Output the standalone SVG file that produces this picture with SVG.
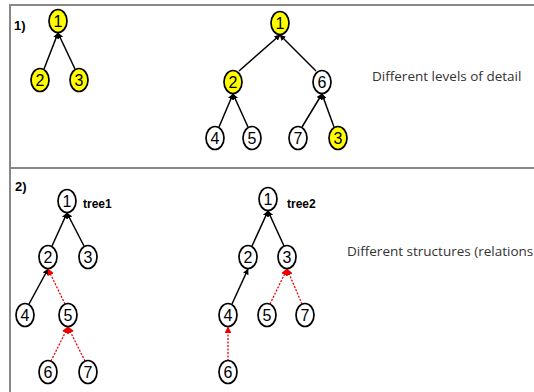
<svg xmlns="http://www.w3.org/2000/svg" width="534" height="392" viewBox="0 0 534 392">
<defs>
<marker id="ab" viewBox="0 0 10 10" refX="9" refY="5" markerWidth="6" markerHeight="6" orient="auto" markerUnits="userSpaceOnUse"><path d="M0,0 L10,5 L0,10 z" fill="#000"/></marker>
<marker id="ar" viewBox="0 0 10 10" refX="9" refY="5" markerWidth="7" markerHeight="7" orient="auto" markerUnits="userSpaceOnUse"><path d="M0,0 L10,5 L0,10 z" fill="#e00"/></marker>
</defs>
<style>
.n ellipse{fill:#fff;stroke:#000;stroke-width:1.7}
.y ellipse{fill:#ffff00}
.n text{font-family:"Liberation Sans",Arial,sans-serif;font-size:16px;fill:#000;text-anchor:middle}
.e{stroke:#000;stroke-width:1.5;fill:none;marker-end:url(#ab)}
.r{stroke:#e00;stroke-width:1.3;stroke-dasharray:2,1.5;fill:none;marker-end:url(#ar)}
.lb{font-family:"Liberation Sans",Arial,sans-serif;font-size:12px;font-weight:bold;fill:#000}
.tx{font-family:"Open Sans","Liberation Sans",sans-serif;font-size:13.5px;fill:#333}
</style>
<rect x="0" y="0" width="534" height="392" fill="#fff"/>
<g id="frame" stroke="#888" stroke-width="2" fill="none">
<path d="M10,392 V5 H534"/>
<path d="M10,168 H534"/>
</g>
<text class="lb" x="14" y="30" style="font-size:13px">1)</text>
<text class="lb" x="15" y="191" style="font-size:13px">2)</text>
<text class="tx" x="372" y="81">Different levels of detail</text>
<text class="tx" x="347" y="256">Different structures (relations</text>
<text class="lb" x="83" y="208">tree1</text>
<text class="lb" x="287" y="208">tree2</text>
<g id="connectors">
<line class="e" x1="44" y1="69" x2="58" y2="33"/>
<line class="e" x1="75" y1="69" x2="58" y2="33"/>
<line class="e" x1="239" y1="71" x2="280" y2="35"/>
<line class="e" x1="316" y1="71" x2="280" y2="35"/>
<line class="e" x1="219" y1="127" x2="233" y2="94"/>
<line class="e" x1="248" y1="127" x2="233" y2="94"/>
<line class="e" x1="302" y1="127" x2="322" y2="94"/>
<line class="e" x1="334" y1="127" x2="322" y2="94"/>
<line class="e" x1="52" y1="246" x2="67" y2="213"/>
<line class="e" x1="84" y1="246" x2="67" y2="213"/>
<line class="e" x1="29" y1="304" x2="48" y2="269"/>
<line class="r" x1="65" y1="304" x2="48" y2="269"/>
<line class="r" x1="51" y1="361" x2="68" y2="327"/>
<line class="r" x1="85" y1="361" x2="68" y2="327"/>
<line class="e" x1="252" y1="246" x2="268" y2="211"/>
<line class="e" x1="284" y1="246" x2="268" y2="211"/>
<line class="e" x1="232" y1="304" x2="248" y2="269"/>
<line class="r" x1="270" y1="304" x2="287" y2="269"/>
<line class="r" x1="302" y1="304" x2="287" y2="269"/>
<line class="r" x1="228" y1="361" x2="228" y2="327"/>
</g>
<g id="a1" class="n y"><ellipse cx="58" cy="21" rx="9" ry="11.5"/><text x="58" y="27">1</text></g>
<g id="a2" class="n y"><ellipse cx="40" cy="80" rx="9" ry="11.5"/><text x="40" y="86">2</text></g>
<g id="a3" class="n y"><ellipse cx="79" cy="80" rx="9" ry="11.5"/><text x="79" y="86">3</text></g>
<g id="b1" class="n y"><ellipse cx="280" cy="23" rx="9" ry="11.5"/><text x="280" y="29">1</text></g>
<g id="b2" class="n y"><ellipse cx="233" cy="82" rx="9" ry="11.5"/><text x="233" y="88">2</text></g>
<g id="b6" class="n"><ellipse cx="322" cy="82" rx="9" ry="11.5"/><text x="322" y="88">6</text></g>
<g id="b4" class="n"><ellipse cx="215" cy="138" rx="9" ry="11.5"/><text x="215" y="144">4</text></g>
<g id="b5" class="n"><ellipse cx="252" cy="138" rx="9" ry="11.5"/><text x="252" y="144">5</text></g>
<g id="b7" class="n"><ellipse cx="298" cy="138" rx="9" ry="11.5"/><text x="298" y="144">7</text></g>
<g id="b3" class="n y"><ellipse cx="338" cy="138" rx="9" ry="11.5"/><text x="338" y="144">3</text></g>
<g id="c1" class="n"><ellipse cx="67" cy="201" rx="9" ry="11.5"/><text x="67" y="207">1</text></g>
<g id="c2" class="n"><ellipse cx="48" cy="257" rx="9" ry="11.5"/><text x="48" y="263">2</text></g>
<g id="c3" class="n"><ellipse cx="88" cy="257" rx="9" ry="11.5"/><text x="88" y="263">3</text></g>
<g id="c4" class="n"><ellipse cx="25" cy="315" rx="9" ry="11.5"/><text x="25" y="321">4</text></g>
<g id="c5" class="n"><ellipse cx="68" cy="315" rx="9" ry="11.5"/><text x="68" y="321">5</text></g>
<g id="c6" class="n"><ellipse cx="48" cy="372" rx="9" ry="11.5"/><text x="48" y="378">6</text></g>
<g id="c7" class="n"><ellipse cx="88" cy="372" rx="9" ry="11.5"/><text x="88" y="378">7</text></g>
<g id="d1" class="n"><ellipse cx="268" cy="199" rx="9" ry="11.5"/><text x="268" y="205">1</text></g>
<g id="d2" class="n"><ellipse cx="248" cy="257" rx="9" ry="11.5"/><text x="248" y="263">2</text></g>
<g id="d3" class="n"><ellipse cx="287" cy="257" rx="9" ry="11.5"/><text x="287" y="263">3</text></g>
<g id="d4" class="n"><ellipse cx="228" cy="315" rx="9" ry="11.5"/><text x="228" y="321">4</text></g>
<g id="d5" class="n"><ellipse cx="267" cy="315" rx="9" ry="11.5"/><text x="267" y="321">5</text></g>
<g id="d7" class="n"><ellipse cx="305" cy="315" rx="9" ry="11.5"/><text x="305" y="321">7</text></g>
<g id="d6" class="n"><ellipse cx="228" cy="372" rx="9" ry="11.5"/><text x="228" y="378">6</text></g>
</svg>
